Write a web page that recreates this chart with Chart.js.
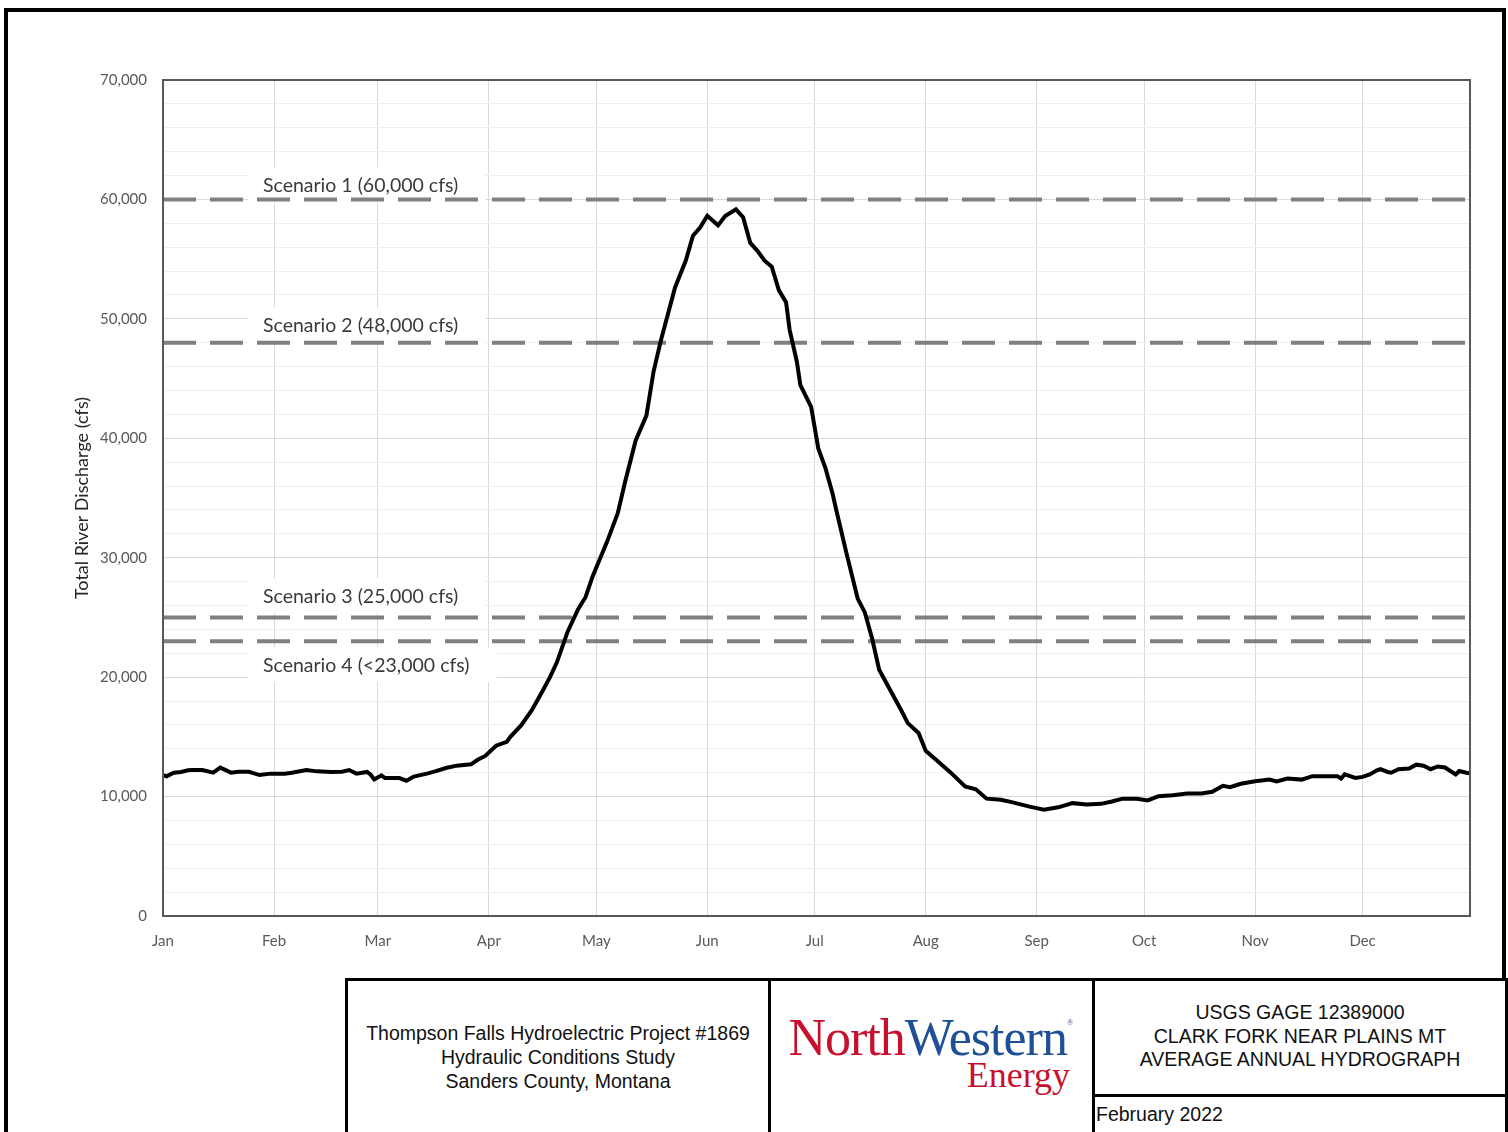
<!DOCTYPE html>
<html>
<head>
<meta charset="utf-8">
<script src="https://cdn.jsdelivr.net/npm/chart.js@4/dist/chart.umd.min.js"></script>
<style>
  html, body { margin: 0; padding: 0; background: #fff; }
  body { width: 1508px; height: 1132px; overflow: hidden; position: relative; font-family: "Liberation Sans", Arial, sans-serif; }
  #frame { position: absolute; left: 4px; top: 8px; width: 1494px; height: 1200px; border: 4px solid #000; }
  #chartBox { position: absolute; left: 0; top: 0; width: 1508px; height: 980px; }
  .blk { position: absolute; border: 3px solid #000; box-sizing: border-box; background: #fff; }
  .txt { position: absolute; color: #111; font-size: 19.5px; line-height: 24px; text-align: center; }
  #logo { position: absolute; left: 772px; top: 1004px; width: 300px; height: 100px; font-family: "Liberation Serif", "DejaVu Serif", serif; }
</style>
</head>
<body>
<div id="frame"></div>
<div id="chartBox"><canvas id="hydroChart"></canvas></div>

<!-- title block -->
<div class="blk" style="left:345px; top:978px; width:426px; height:170px;"></div>
<div class="blk" style="left:768px; top:978px; width:327px; height:170px;"></div>
<div class="blk" style="left:1092px; top:978px; width:416px; height:119px;"></div>
<div class="blk" style="left:1092px; top:1094px; width:416px; height:60px;"></div>
<div class="txt" style="left:348px; top:1021px; width:420px;">Thompson Falls Hydroelectric Project #1869<br>Hydraulic Conditions Study<br>Sanders County, Montana</div>
<div class="txt" style="left:1095px; top:1001px; width:410px; line-height:23.5px;">USGS GAGE 12389000<br>CLARK FORK NEAR PLAINS MT<br>AVERAGE ANNUAL HYDROGRAPH</div>
<div class="txt" style="left:1096px; top:1102px; text-align:left;">February 2022</div>
<div id="logo">
  <div style="position:absolute; right:0; top:8px; font-size:52px; line-height:52px; letter-spacing:-1px; white-space:nowrap;"><span style="color:#c8102e">North</span><span style="color:#1f4f96">Western</span><span style="position:relative; top:-30px; font-size:8px; color:#1f4f96;">&reg;</span></div>
  <div style="position:absolute; right:2px; top:53px; font-size:36px; line-height:36px; color:#c8102e; white-space:nowrap;">Energy</div>
</div>

<script>
// Average annual hydrograph, USGS 12389000, day index 0 = Jan 1 (leap year)
const dayIndex = [0, 1, 3, 5, 7, 8, 11, 14, 16, 19, 21, 24, 27, 30, 34, 36, 40, 43, 47, 50,
    52, 54, 57, 58, 59, 61, 62, 66, 68, 70, 74, 76, 79, 82, 86, 88, 90, 93, 96, 97,
    100, 103, 106, 108, 110, 113, 116, 118, 120, 122, 124, 127, 129, 132, 135, 137, 139, 141, 143, 146,
    148, 150, 152, 155, 157, 160, 162, 164, 166, 168, 170, 172, 174, 175, 177, 178, 181, 183, 185, 187,
    188, 191, 194, 196, 198, 200, 203, 206, 208, 211, 213, 217, 220, 224, 227, 230, 234, 237, 242, 246,
    250, 254, 258, 262, 265, 268, 272, 275, 278, 282, 286, 290, 293, 296, 298, 301, 305, 309, 311, 314,
    318, 321, 325, 328, 329, 330, 333, 335, 337, 339, 340, 342, 343, 345, 348, 350, 352, 354, 356, 358,
    361, 362, 364, 365];
const flowCfs = [11800, 11700, 12000, 12060, 12200, 12220, 12220, 12000, 12420, 12000, 12080, 12080, 11800, 11920, 11920, 12000, 12220, 12110, 12060, 12080,
    12220, 11920, 12060, 11830, 11440, 11780, 11550, 11550, 11330, 11670, 11940, 12110, 12390, 12590, 12700, 13100, 13400, 14260, 14580, 15000,
    15960, 17240, 18840, 19960, 21240, 23810, 25730, 26690, 28450, 29890, 31330, 33735, 36300, 39820, 41900, 45590, 48150, 50390, 52630, 54880,
    56960, 57650, 58630, 57830, 58610, 59170, 58510, 56360, 55700, 54870, 54375, 52390, 51400, 49080, 46430, 44450, 42630, 39150, 37500, 35350,
    34020, 30220, 26580, 25420, 23270, 20620, 18970, 17310, 16150, 15330, 13840, 12780, 12000, 10840, 10610, 9825, 9740, 9535, 9160, 8900,
    9100, 9450, 9330, 9390, 9590, 9825, 9825, 9680, 10030, 10115, 10260, 10260, 10400, 10900, 10780, 11070, 11275, 11420, 11275, 11510,
    11420, 11710, 11710, 11710, 11510, 11855, 11565, 11650, 11855, 12200, 12290, 12060, 12000, 12290, 12350, 12670, 12580, 12290, 12520, 12435,
    11855, 12145, 12000, 11950];

// scenario threshold lines
const scenarioFlows = [60000, 48000, 25000, 23000];
const scenarioLabels = ['Scenario 1 (60,000 cfs)', 'Scenario 2 (48,000 cfs)', 'Scenario 3 (25,000 cfs)', 'Scenario 4 (<23,000 cfs)'];

// month axis
const monthStart = [0, 31, 60, 91, 121, 152, 182, 213, 244, 274, 305, 335];
const monthLabels = ['Jan', 'Feb', 'Mar', 'Apr', 'May', 'Jun', 'Jul', 'Aug', 'Sep', 'Oct', 'Nov', 'Dec'];

const yMin = 0;
const yMax = 70000;
const yMinorStep = 2000;
const yMajorStep = 10000;

const uiFont = 'Lato, "Open Sans", sans-serif';

// white boxes behind the scenario captions + the captions themselves
const scenarioCaptions = {
    id: 'scenarioCaptions',
    beforeDatasetsDraw(chart) {
        const ctx = chart.ctx;
        const yScale = chart.scales.y;
        const offsets = [-14, -17, -21, 24];   // caption centre relative to its line
        const textX = 263;
        ctx.save();
        ctx.font = '19.5px ' + uiFont;
        ctx.textBaseline = 'middle';
        scenarioLabels.forEach((label, i) => {
            const cy = yScale.getPixelForValue(scenarioFlows[i]) + offsets[i];
            const w = ctx.measureText(label).width;
            ctx.fillStyle = '#ffffff';
            ctx.fillRect(textX - 15, cy - 18, w + 42, 35);
            ctx.fillStyle = '#3a3a3a';
            ctx.fillText(label, textX, cy);
        });
        ctx.restore();
    },
    afterDraw(chart) {
        // top and right edge of the plot box
        const { ctx, chartArea } = chart;
        ctx.save();
        ctx.strokeStyle = '#595959';
        ctx.lineWidth = 2;
        ctx.strokeRect(chartArea.left, chartArea.top, chartArea.right - chartArea.left, chartArea.bottom - chartArea.top);
        ctx.restore();
    }
};

function buildScenarioDatasets() {
    return scenarioFlows.map((flow, i) => ({
        label: scenarioLabels[i],
        data: [{ x: 0, y: flow }, { x: 365, y: flow }],
        borderColor: '#808080',
        borderWidth: 4,
        borderDash: [33, 14],
        pointRadius: 0,
        fill: false
    }));
}

function init() {
    const ctx = document.getElementById('hydroChart').getContext('2d');
    const hydroPoints = dayIndex.map((d, i) => ({ x: d, y: flowCfs[i] }));

    new Chart(ctx, {
        type: 'line',
        data: {
            datasets: [
                {
                    label: 'Average daily discharge',
                    data: hydroPoints,
                    borderColor: '#000000',
                    borderWidth: 4,
                    pointRadius: 0,
                    tension: 0,
                    fill: false
                },
                ...buildScenarioDatasets()
            ]
        },
        options: {
            responsive: true,
            maintainAspectRatio: false,
            animation: false,
            layout: { padding: { left: 0, right: 38, top: 80, bottom: 0 } },
            plugins: {
                legend: { display: false },
                tooltip: { enabled: false }
            },
            scales: {
                x: {
                    type: 'linear',
                    min: 0,
                    max: 365,
                    afterBuildTicks: (scale) => {
                        scale.ticks = monthStart.map(v => ({ value: v }));
                    },
                    afterFit: (scale) => { scale.height = 64; },
                    ticks: {
                        autoSkip: false,
                        maxRotation: 0,
                        padding: 16,
                        color: '#595959',
                        font: { family: uiFont, size: 15 },
                        callback: (v) => {
                            const i = monthStart.indexOf(v);
                            return i >= 0 ? monthLabels[i] : '';
                        }
                    },
                    grid: { color: '#d9d9d9', lineWidth: 1, drawTicks: false },
                    border: { color: '#595959', width: 2 }
                },
                y: {
                    min: yMin,
                    max: yMax,
                    afterFit: (scale) => { scale.width = 163; },
                    ticks: {
                        stepSize: yMinorStep,
                        autoSkip: false,
                        padding: 16,
                        color: '#595959',
                        font: { family: uiFont, size: 15 },
                        callback: (v) => (v % yMajorStep === 0 ? v.toLocaleString('en-US') : '')
                    },
                    grid: {
                        drawTicks: false,
                        lineWidth: 1,
                        color: (c) => (c.tick && c.tick.value % yMajorStep === 0 ? '#d9d9d9' : '#eeeeee')
                    },
                    border: { color: '#595959', width: 2 },
                    title: {
                        display: true,
                        text: 'Total River Discharge (cfs)',
                        color: '#262626',
                        font: { family: uiFont, size: 18 },
                        padding: { top: 71, bottom: 0 }
                    }
                }
            }
        },
        plugins: [scenarioCaptions]
    });
}

window.addEventListener('load', init);
</script>
</body>
</html>
